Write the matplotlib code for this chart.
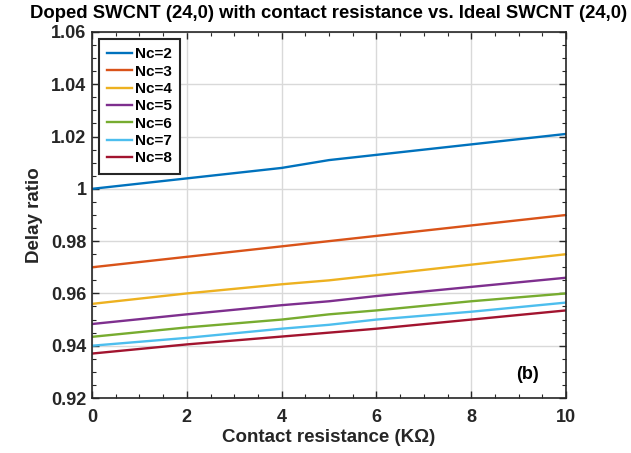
import numpy as np
import matplotlib.pyplot as plt
from matplotlib.ticker import MultipleLocator

plt.rcParams['font.family'] = ['Liberation Sans', 'DejaVu Sans']
plt.rcParams['font.weight'] = 'bold'

# contact resistance (KOhm)
rc = [0, 2, 4, 5, 6, 8, 10]

# delay ratio for each number of conducting channels
nc2 = [1.000, 1.004, 1.008, 1.011, 1.013, 1.017, 1.021]
nc3 = [0.970, 0.974, 0.978, 0.980, 0.982, 0.986, 0.990]
nc4 = [0.956, 0.960, 0.9635, 0.965, 0.967, 0.971, 0.975]
nc5 = [0.9483, 0.952, 0.9555, 0.957, 0.959, 0.9625, 0.966]
nc6 = [0.9434, 0.947, 0.950, 0.952, 0.9535, 0.957, 0.960]
nc7 = [0.940, 0.943, 0.9465, 0.948, 0.950, 0.953, 0.9565]
nc8 = [0.937, 0.9405, 0.9435, 0.945, 0.9465, 0.950, 0.9535]

series = [nc2, nc3, nc4, nc5, nc6, nc7, nc8]
labels = ['Nc=2', 'Nc=3', 'Nc=4', 'Nc=5', 'Nc=6', 'Nc=7', 'Nc=8']
colors = ['#0072BD', '#D95319', '#EDB120', '#7E2F8E', '#77AC30', '#4DBEEE', '#A2142F']

fig = plt.figure(figsize=(6.31, 4.53), dpi=100)
ax = fig.add_axes([0.1458, 0.1214, 0.7512, 0.808])

for vals, lab, c in zip(series, labels, colors):
    ax.plot(rc, vals, color=c, lw=1.7, label=lab)

ax.set_xlim(0, 10)
ax.set_ylim(0.92, 1.06)
ax.set_xticks(np.arange(0, 11, 2))
ax.set_yticks([0.92, 0.94, 0.96, 0.98, 1.0, 1.02, 1.04, 1.06])
ax.set_yticklabels(['0.92', '0.94', '0.96', '0.98', '1', '1.02', '1.04', '1.06'])
ax.xaxis.set_minor_locator(MultipleLocator(0.5))
ax.yaxis.set_minor_locator(MultipleLocator(0.005))
ax.tick_params(which='both', direction='in', top=True, right=True, colors='#262626',
               labelsize=13, labelcolor='#262626')
ax.tick_params(which='major', length=5, width=1)
ax.tick_params(which='minor', length=3, width=0.8)
ax.tick_params(axis='x', which='major', pad=8)
ax.tick_params(axis='y', which='major', pad=4)
ax.grid(True, which='major', color='#d9d9d9', lw=1)
for s in ax.spines.values():
    s.set_color('#262626')
    s.set_linewidth(1.2)

ax.set_xlabel('Contact resistance (K\u03a9)', fontsize=13.5, fontweight='bold',
              color='#262626', labelpad=2)
ax.set_ylabel('Delay ratio', fontsize=13.5, fontweight='bold', color='#262626', labelpad=6)
ax.set_title('Doped SWCNT (24,0) with contact resistance vs. Ideal SWCNT (24,0)',
             fontsize=13.3, fontweight='bold', pad=10)

leg = ax.legend(loc='upper left', fontsize=11, handlelength=1.6, borderpad=0.55,
                labelspacing=0.22, handletextpad=0.2, fancybox=False, framealpha=1,
                borderaxespad=0.45)
leg.get_frame().set_edgecolor('#262626')
leg.get_frame().set_linewidth(1.5)

ax.text(9.18, 0.9288, '(b)', fontsize=13, fontweight='bold', ha='center', va='center')

fig.savefig('out.png', dpi=100)
